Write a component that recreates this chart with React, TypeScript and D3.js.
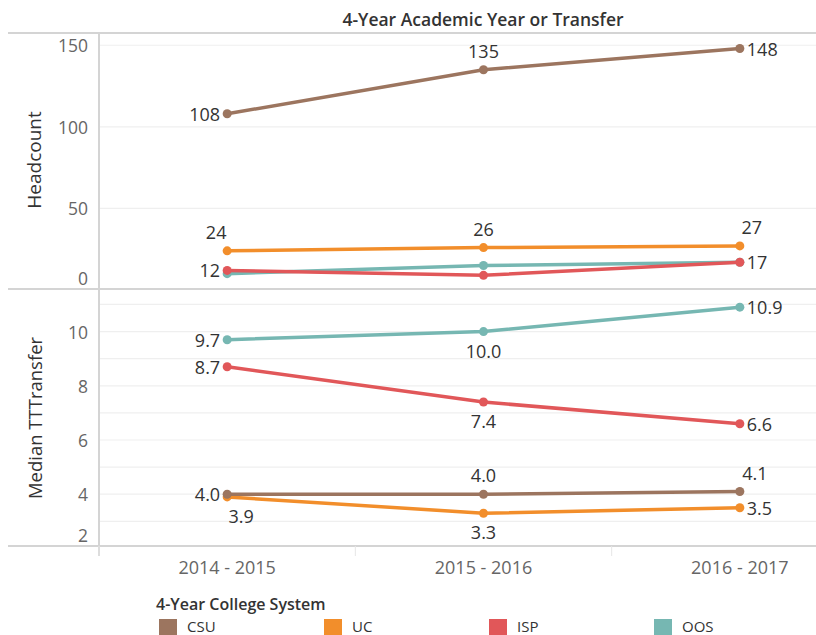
import React from "react";
import * as d3 from "d3";

const years = ["2014 - 2015", "2015 - 2016", "2016 - 2017"];
const systems = ["CSU", "UC", "ISP", "OOS"];
const colors = ["#9c755f", "#f28e2b", "#e15759", "#76b7b2"];

const headcountCSU = [108, 135, 148];
const headcountUC = [24, 26, 27];
const headcountISP = [12, 9, 17];
const headcountOOS = [10, 15, 17];

const medianCSU = [4.0, 4.0, 4.1];
const medianUC = [3.9, 3.3, 3.5];
const medianISP = [8.7, 7.4, 6.6];
const medianOOS = [9.7, 10.0, 10.9];

const headTicks = [0, 50, 100, 150];
const medianTicks = [2, 4, 6, 8, 10];
const medianGrid = [3, 4, 5, 6, 7, 8, 9, 10, 11];

// label placement: [position, dx] per point; null = hidden
type P = [string, number] | null;
const headLabelPos: P[][] = [
  [["left", 0], ["above", 0], ["right", 0]],
  [["above", -11], ["above", 0], ["above", 12]],
  [["left", 0], null, ["right", 0]],
  [null, null, null],
];
const medLabelPos: P[][] = [
  [["left", 0], ["above", 0], ["above", 15]],
  [["below", 14], ["below", 0], ["right", 0]],
  [["left", 0], ["below", 0], ["right", 0]],
  [["left", 0], ["below", 0], ["right", 0]],
];

const headSeries = [headcountCSU, headcountUC, headcountISP, headcountOOS];
const medSeries = [medianCSU, medianUC, medianISP, medianOOS];

const FONT = "'Open Sans', sans-serif";

export default function App() {
  const W = 816, H = 635;
  const left = 99, top = 33, mid = 289, bottom = 546;
  const x = d3.scaleBand().domain(years).range([left, 868]);
  const cx = (i: number) => (x(years[i]) as number) + x.bandwidth() / 2;
  const yTop = d3.scaleLinear().domain([0, 157.5]).range([290, top]);
  const yBot = d3.scaleLinear().domain([2.09, 11.57]).range([bottom, mid]);
  const line = (ys: d3.ScaleLinear<number, number>) =>
    d3.line<number>().x((_, i) => cx(i)).y((v) => ys(v));

  const fmtHead = (v: number) => d3.format("d")(v);
  const fmtMed = (v: number) => d3.format(".1f")(v);

  const renderLabels = (
    series: number[][],
    pos: P[][],
    ys: d3.ScaleLinear<number, number>,
    fmt: (v: number) => string
  ) =>
    series.map((vals, s) =>
      vals.map((v, i) => {
        const p = pos[s][i];
        if (!p) return null;
        const px = cx(i), py = ys(v);
        let tx = px + p[1], ty = py, anchor = "middle";
        if (p[0] === "left") { tx = px - 7; anchor = "end"; }
        else if (p[0] === "right") { tx = px + 7; anchor = "start"; }
        else if (p[0] === "above") ty = py - 19;
        else if (p[0] === "below") ty = py + 19;
        return (
          <text key={`l${s}-${i}`} x={tx} y={ty} textAnchor={anchor}
            dominantBaseline="central" fontSize={18} fill="#333">
            {fmt(v)}
          </text>
        );
      })
    );

  return (
    <svg width={W} height={H} style={{ position: "absolute", left: 0, top: 0, fontFamily: FONT }}>
      <rect width={W} height={H} fill="#fff" />
      {/* title */}
      <text x={483} y={19} textAnchor="middle" dominantBaseline="central"
        fontSize={17.5} fontWeight={600} fill="#333">4-Year Academic Year or Transfer</text>

      {/* gridlines */}
      {headTicks.filter((t) => t > 0).map((t) => (
        <line key={`hg${t}`} x1={left} x2={W} y1={yTop(t)} y2={yTop(t)} stroke="#efefef" strokeWidth={1.2} />
      ))}
      {medianGrid.map((t) => (
        <line key={`mg${t}`} x1={left} x2={W} y1={yBot(t)} y2={yBot(t)} stroke="#efefef" strokeWidth={1.2} />
      ))}

      {/* borders */}
      <line x1={8} x2={W} y1={top} y2={top} stroke="#d4d4d4" strokeWidth={2} />
      <line x1={8} x2={W} y1={mid} y2={mid} stroke="#d4d4d4" strokeWidth={2} />
      <line x1={8} x2={W} y1={bottom} y2={bottom} stroke="#d4d4d4" strokeWidth={2} />
      <line x1={left} x2={left} y1={top} y2={556} stroke="#d4d4d4" strokeWidth={2} />
      {years.map((yr, i) => (
        <line key={`xt${i}`} x1={x(yr) as number} x2={x(yr) as number} y1={bottom} y2={556} stroke="#e6e6e6" strokeWidth={1} />
      ))}

      {/* y tick labels */}
      {headTicks.map((t) => (
        <text key={`ht${t}`} x={88} y={Math.min(yTop(t), mid - 11)} textAnchor="end"
          dominantBaseline="central" fontSize={17.5} fill="#666">{t}</text>
      ))}
      {medianTicks.map((t) => (
        <text key={`mt${t}`} x={88} y={Math.min(yBot(t), bottom - 11)} textAnchor="end"
          dominantBaseline="central" fontSize={17.5} fill="#666">{t}</text>
      ))}

      {/* axis titles */}
      <text transform="translate(34,160) rotate(-90)" textAnchor="middle" dominantBaseline="central"
        fontSize={19} fill="#333">Headcount</text>
      <text transform="translate(34,418) rotate(-90)" textAnchor="middle" dominantBaseline="central"
        fontSize={18.5} fill="#333">Median TTTransfer</text>

      {/* x labels */}
      {years.map((yr, i) => (
        <text key={`xl${i}`} x={cx(i)} y={567} textAnchor="middle" dominantBaseline="central"
          fontSize={18} fill="#666">{yr}</text>
      ))}

      {/* lines - reversed so CSU is drawn on top */}
      {headSeries.map((vals, s) => (
        <g key={`hs${s}`}>
          <path d={line(yTop)(vals) as string} fill="none" stroke={colors[s]} strokeWidth={3.5} />
          {vals.map((v, i) => (
            <circle key={i} cx={cx(i)} cy={yTop(v)} r={4.5} fill={colors[s]} />
          ))}
        </g>
      )).reverse()}
      {medSeries.map((vals, s) => (
        <g key={`ms${s}`}>
          <path d={line(yBot)(vals) as string} fill="none" stroke={colors[s]} strokeWidth={3.5} />
          {vals.map((v, i) => (
            <circle key={i} cx={cx(i)} cy={yBot(v)} r={4.5} fill={colors[s]} />
          ))}
        </g>
      )).reverse()}

      {renderLabels(headSeries, headLabelPos, yTop, fmtHead)}
      {renderLabels(medSeries, medLabelPos, yBot, fmtMed)}

      {/* legend */}
      <text x={156} y={604} dominantBaseline="central" fontSize={16} fontWeight={600} fill="#333">
        4-Year College System
      </text>
      {systems.map((name, i) => (
        <g key={`lg${i}`} transform={`translate(${159 + i * 165},0)`}>
          <rect x={0} y={619} width={18} height={16} fill={colors[i]} />
          <text x={28} y={626} dominantBaseline="central" fontSize={15} fill="#333">{name}</text>
        </g>
      ))}
    </svg>
  );
}
